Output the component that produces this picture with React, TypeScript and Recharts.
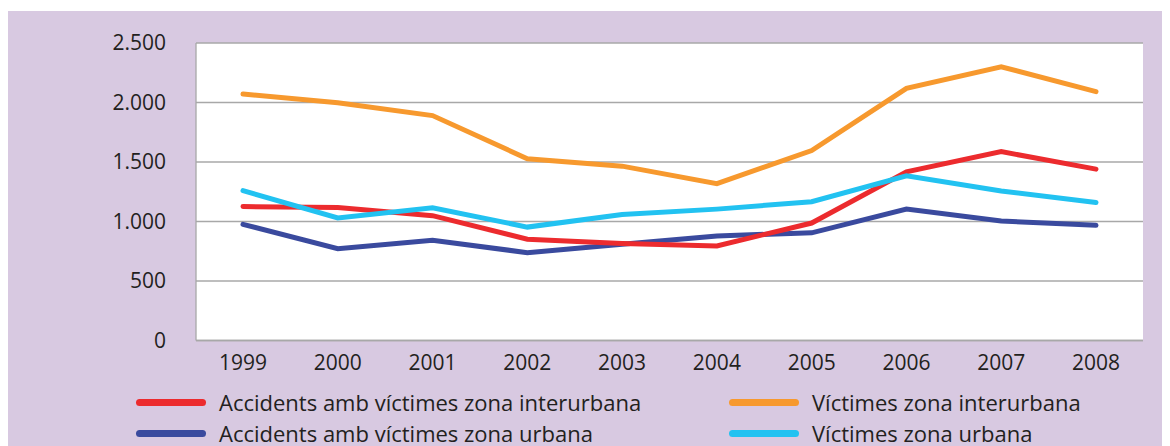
import { LineChart, Line, XAxis, YAxis, CartesianGrid } from "recharts";

// Accidents i víctimes per zona, 1999-2008
const YEARS = ["1999", "2000", "2001", "2002", "2003", "2004", "2005", "2006", "2007", "2008"];

const ACCIDENTS_INTERURBANA = [1126, 1117, 1049, 851, 815, 795, 987, 1418, 1587, 1440];
const ACCIDENTS_URBANA = [976, 772, 843, 738, 809, 879, 905, 1104, 1004, 968];
const VICTIMES_INTERURBANA = [2071, 1997, 1890, 1528, 1465, 1318, 1596, 2119, 2300, 2091];
const VICTIMES_URBANA = [1259, 1030, 1115, 953, 1058, 1104, 1166, 1384, 1256, 1160];

const Y_TICKS = [0, 500, 1000, 1500, 2000, 2500];

const SERIES = [
  { key: "accUrb", name: "Accidents amb víctimes zona urbana", color: "#3A4A9E", values: ACCIDENTS_URBANA },
  { key: "accInt", name: "Accidents amb víctimes zona interurbana", color: "#EC2B2E", values: ACCIDENTS_INTERURBANA },
  { key: "vicInt", name: "Víctimes zona interurbana", color: "#F7992E", values: VICTIMES_INTERURBANA },
  { key: "vicUrb", name: "Víctimes zona urbana", color: "#22C2F1", values: VICTIMES_URBANA },
];

// legend is laid out 2x2 like the original
const LEGEND_ORDER = [
  ["accInt", "vicInt"],
  ["accUrb", "vicUrb"],
];

const data = YEARS.map((year, i) => {
  const row: Record<string, string | number> = { year };
  for (const s of SERIES) row[s.key] = s.values[i];
  return row;
});

const FONT = "'Open Sans', 'DejaVu Sans', sans-serif";
const TEXT = "#231F20";
const GRID = "#A8A8A8";

const fmt = (v: number) => v.toLocaleString("de-DE");

function LegendBlock() {
  const cols = [128, 721];
  const rows = [391, 422];
  return (
    <>
      {LEGEND_ORDER.map((row, r) =>
        row.map((key, c) => {
          const s = SERIES.find((x) => x.key === key)!;
          return (
            <div
              key={key}
              style={{
                position: "absolute",
                left: cols[c],
                top: rows[r] - 10,
                height: 20,
                display: "flex",
                alignItems: "center",
                whiteSpace: "nowrap",
              }}
            >
              <span
                style={{
                  display: "inline-block",
                  width: 70,
                  height: 7,
                  borderRadius: 4,
                  background: s.color,
                  marginRight: 13,
                }}
              />
              <span style={{ fontFamily: FONT, fontSize: 22, lineHeight: "20px", color: TEXT }}>{s.name}</span>
            </div>
          );
        })
      )}
    </>
  );
}

export default function App() {
  return (
    <div style={{ paddingTop: 3 }}>
      <div style={{ position: "relative", width: 1162, height: 435, background: "#D8C9E1" }}>
        <LineChart
          width={1162}
          height={435}
          data={data}
          margin={{ top: 32, right: 27, bottom: 0, left: 0 }}
        >
          <CartesianGrid vertical={false} stroke={GRID} strokeWidth={1.3} fill="#FFFFFF" />
          <XAxis
            dataKey="year"
            height={105.5}
            padding={{ left: 47, right: 47 }}
            axisLine={{ stroke: GRID, strokeWidth: 1.3 }}
            tickLine={false}
            tickSize={0}
            tickMargin={15}
            tick={{ fill: TEXT, fontSize: 21, fontFamily: FONT }}
            interval={0}
          />
          <YAxis
            width={188}
            domain={[0, 2500]}
            ticks={Y_TICKS}
            tickFormatter={fmt}
            axisLine={{ stroke: GRID, strokeWidth: 1.3 }}
            tickLine={false}
            tickSize={0}
            tickMargin={30}
            tick={{ fill: TEXT, fontSize: 21, fontFamily: FONT }}
            interval={0}
          />
          <YAxis
            yAxisId="frame"
            orientation="right"
            width={0}
            tick={false}
            tickLine={false}
            axisLine={{ stroke: GRID, strokeWidth: 1.3 }}
          />
          {SERIES.map((s) => (
            <Line
              key={s.key}
              dataKey={s.key}
              name={s.name}
              stroke={s.color}
              strokeWidth={5}
              strokeLinecap="round"
              dot={false}
              activeDot={false}
              isAnimationActive={false}
            />
          ))}
        </LineChart>
        <LegendBlock />
      </div>
    </div>
  );
}
